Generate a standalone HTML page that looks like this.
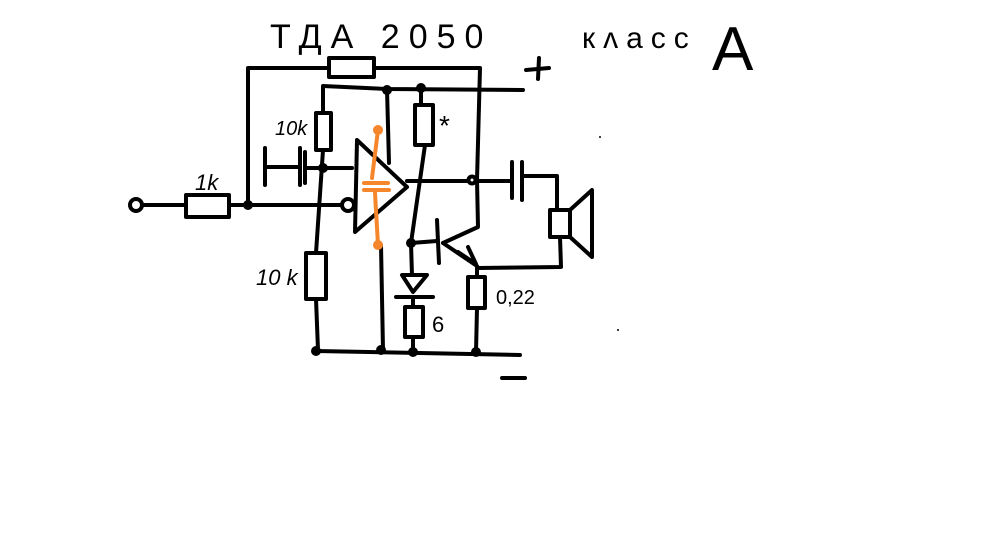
<!DOCTYPE html>
<html><head><meta charset="utf-8"><style>
html,body{margin:0;padding:0;background:#fff;}
svg{display:block;}
text{font-family:"Liberation Sans",sans-serif;fill:#000;}
</style></head><body>
<svg width="996" height="534" viewBox="0 0 996 534" xmlns="http://www.w3.org/2000/svg">
<rect width="996" height="534" fill="#fff"/>
<g stroke="#000" stroke-width="4" fill="none" stroke-linecap="round" stroke-linejoin="round">
<circle cx="136" cy="205" r="6" fill="#fff"/>
<line x1="142" y1="205" x2="186" y2="205"/>
<rect x="186" y="195" width="43" height="22" fill="#fff"/>
<line x1="229" y1="205" x2="342" y2="205"/>
<circle cx="348" cy="205" r="6" fill="#fff"/>
<polyline points="248,205 248,68 329,68"/>
<rect x="329" y="58" width="45" height="19" fill="#fff"/>
<polyline points="374,68 480,68 477,180 478,227 443,243"/>
<polyline points="323,150 323,86 387,89 523,90"/>
<rect x="316" y="113" width="15" height="37" fill="#fff"/>
<line x1="323" y1="150" x2="316" y2="253"/>
<rect x="306" y="253" width="20" height="46" fill="#fff"/>
<line x1="316" y1="299" x2="318" y2="350"/>
<line x1="265" y1="148" x2="265" y2="185"/>
<line x1="265" y1="167" x2="300" y2="167"/>
<line x1="300" y1="148" x2="300" y2="185"/>
<line x1="305" y1="152" x2="305" y2="183"/>
<line x1="305" y1="168" x2="352" y2="168"/>
<polygon points="357,140 407,187 355,232" fill="none"/>
<line x1="387" y1="89" x2="389" y2="163"/>
<line x1="407" y1="181" x2="470" y2="181"/>
<circle cx="472" cy="180" r="3.5" fill="#fff"/>
<line x1="476" y1="181" x2="512" y2="181"/>
<line x1="512" y1="162" x2="512" y2="198"/>
<line x1="522" y1="162" x2="522" y2="200"/>
<polyline points="522,176 557,176 557,210"/>
<rect x="550" y="210" width="20" height="27" fill="#fff"/>
<polygon points="570,210 592,190 592,257 570,237"/>
<polyline points="560,237 561,267 478,268"/>
<line x1="421" y1="89" x2="421" y2="105"/>
<rect x="415" y="105" width="18" height="40" fill="#fff"/>
<line x1="425" y1="145" x2="411" y2="243"/>
<line x1="411" y1="243" x2="437" y2="241"/>
<line x1="437" y1="220" x2="439" y2="263"/>
<line x1="443" y1="243" x2="477" y2="266"/>
<polyline points="458,252 476,264 468,247"/>
<line x1="477" y1="268" x2="477" y2="277"/>
<rect x="468" y="277" width="17" height="31" fill="#fff"/>
<line x1="477" y1="308" x2="476" y2="352"/>
<line x1="411" y1="243" x2="412" y2="275"/>
<polygon points="402,275 427,275 413,292"/>
<line x1="396" y1="297" x2="433" y2="297"/>
<line x1="413" y1="297" x2="413" y2="307"/>
<rect x="405" y="307" width="18" height="30" fill="#fff"/>
<line x1="413" y1="337" x2="413" y2="352"/>
<line x1="381" y1="245" x2="383" y2="350"/>
<line x1="316" y1="351" x2="520" y2="355"/>
<line x1="502" y1="378" x2="525" y2="378"/>
<line x1="526" y1="70" x2="549" y2="68"/>
<line x1="539" y1="58" x2="538" y2="79"/>
</g>
<g fill="#000">
<circle cx="248" cy="205" r="5"/>
<circle cx="323" cy="168" r="5"/>
<circle cx="387" cy="90" r="5"/>
<circle cx="421" cy="88" r="5"/>
<circle cx="411" cy="243" r="5"/>
<circle cx="316" cy="351" r="5"/>
<circle cx="381" cy="350" r="5"/>
<circle cx="413" cy="352" r="5"/>
<circle cx="476" cy="352" r="5"/>
<circle cx="600" cy="137" r="1"/>
<circle cx="618" cy="330" r="1"/>
</g>
<g stroke="#f5862b" stroke-width="4" fill="none" stroke-linecap="round">
<line x1="378" y1="130" x2="372" y2="178"/>
<line x1="364" y1="183" x2="388" y2="183"/>
<line x1="364" y1="190" x2="389" y2="190"/>
<line x1="375" y1="193" x2="378" y2="245"/>
</g>
<circle cx="378" cy="130" r="5" fill="#f5862b"/>
<circle cx="378" cy="245" r="5" fill="#f5862b"/>
<text x="270" y="48" font-size="34" letter-spacing="9">ТДА 2050</text>
<text x="582" y="48" font-size="30" letter-spacing="8">кʌacc</text>
<text x="712" y="70" font-size="62">A</text>
<text x="195" y="190" font-size="22" font-style="italic">1k</text>
<text x="275" y="135" font-size="20" font-style="italic">10k</text>
<text x="256" y="285" font-size="22" font-style="italic">10 k</text>
<text x="439" y="135" font-size="28">*</text>
<text x="432" y="332" font-size="22">6</text>
<text x="496" y="304" font-size="20">0,22</text>
</svg>
</body></html>
